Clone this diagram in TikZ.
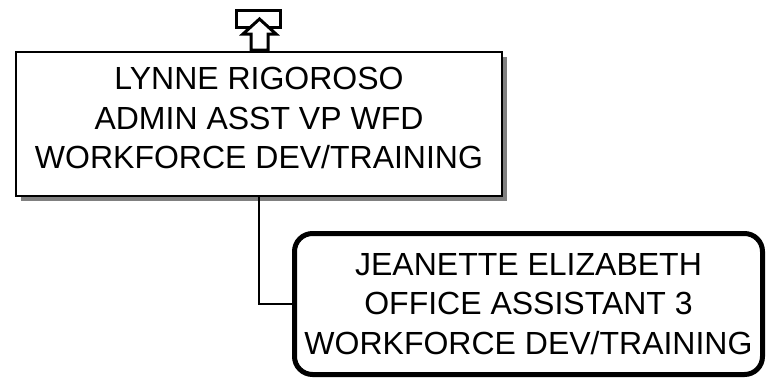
\documentclass[tikz,border=0pt]{standalone}
\usepackage{fontspec}
\setmainfont{Liberation Sans}
\usetikzlibrary{shadows}

\begin{document}
\begin{tikzpicture}[
    x=1pt, y=-1pt,
    person/.style={
        draw, align=center, inner sep=0pt,
        font=\fontsize{32pt}{39.5pt}\selectfont
    },
    boss/.style={
        person, line width=2.5pt, fill=white,
        minimum width=486pt, minimum height=144pt, text depth=12pt,
        drop shadow={shadow xshift=5pt, shadow yshift=-5pt, fill=black!50, opacity=1}
    },
    staff/.style={
        person, line width=5pt, rounded corners=18pt,
        minimum width=468pt, minimum height=141pt
    },
    uplink/.style={line width=3pt, fill=white, line join=miter}
]

\useasboundingbox (0,0) rectangle (768,380);

\node[boss]  (lynne)    at (259, 124)   {LYNNE RIGOROSO\\ADMIN ASST VP WFD\\WORKFORCE DEV/TRAINING};
\node[staff] (jeanette) at (528.5, 304) {JEANETTE ELIZABETH\\OFFICE ASSISTANT 3\\WORKFORCE DEV/TRAINING};

\draw[line width=1.5pt] (lynne.south) |- (jeanette.west);

\draw[uplink] (236.5,10) rectangle (280,27);
\draw[uplink] (259.5,19) -- (276,34) -- (268,34) -- (268,50) -- (251,50) -- (251,34) -- (243,34) -- cycle;

\end{tikzpicture}
\end{document}
